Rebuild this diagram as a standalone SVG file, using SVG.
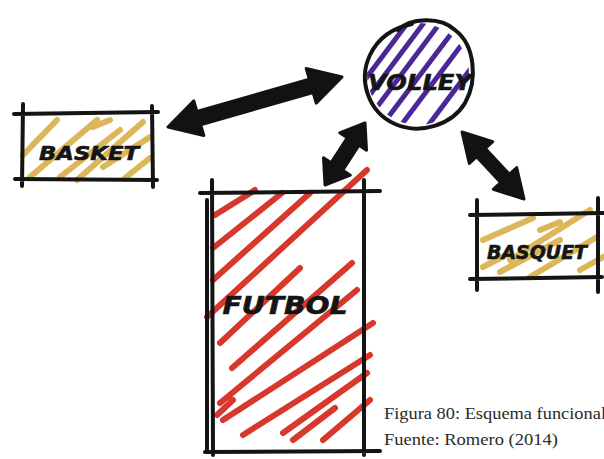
<svg xmlns="http://www.w3.org/2000/svg" width="604" height="459" viewBox="0 0 604 459">
<style>
.ink{fill:none;stroke:#141414;stroke-width:4;stroke-linecap:round;stroke-linejoin:round}
.gold{fill:none;stroke:#d6a93c;stroke-width:6;stroke-linecap:round;opacity:.85}
.purple{fill:none;stroke:#4a2898;stroke-width:5;stroke-linecap:round}
.red{fill:none;stroke:#d8372c;stroke-width:6;stroke-linecap:round}
.lbl{font-family:"DejaVu Sans",sans-serif;font-weight:bold;fill:#151515;stroke:#151515;stroke-width:0.6;font-style:italic}
.arrow{fill:#121212;stroke:#121212;stroke-width:3;stroke-linejoin:round}
.cap{font-family:"Liberation Serif","Times New Roman",serif;font-size:17px;fill:#2a2a2a}
</style>
<defs>
<clipPath id="vclip"><circle cx="418" cy="74" r="51"/></clipPath>
</defs>
<rect width="604" height="459" fill="#ffffff"/>

<g id="basket">
<path class="gold" d="M23 155 L57 120 M30 177 L97 120 M60 177 L120 130 M77 180 L143 122 M103 167 L150 137 M93 127 L110 120 M125 178 L150 158"/>
<path class="ink" d="M14 114 L158 112 M15 179 L157 180 M23 104 L22 186 M152 106 L153 187"/>
<text class="lbl" x="89" y="160" font-size="19" text-anchor="middle" textLength="100" lengthAdjust="spacingAndGlyphs">BASKET</text>
</g>

<g id="volley">
<g clip-path="url(#vclip)">
<path class="purple" d="M334.4 98.8 L418.4 -13.2 M344.8 106.6 L428.8 -5.4 M355.2 114.4 L439.2 2.4 M365.6 122.2 L449.6 10.2 M380 128 L460 22 M393 136 L470.4 33 M407.2 153.4 L491.2 41.4"/>
</g>
<path class="ink" stroke-width="3" d="M398 30 C410 18 440 16 455 30 C475 45 478 80 465 103 C452 125 420 135 395 124 C368 112 358 80 370 55 C378 38 392 28 412 24"/>
<text class="lbl" x="420" y="90" font-size="22" text-anchor="middle" textLength="104" lengthAdjust="spacingAndGlyphs">VOLLEY</text>
</g>

<g id="futbol">
<path class="red" d="M215 215 L255 190 M213 248 L282 193 M213 280 L310 193 M207 317 L367 170 M220 343 L300 268 M232 368 L352 263 M220 403 L357 290 M223 420 L373 323 M243 435 L370 355 M283 433 L367 373 M293 440 L335 408 M323 440 L370 400 M217 415 L233 400"/>
<path class="ink" d="M200 193 L380 191 M205 452 L380 451 M212 180 L213 455 M207 200 L207 450 M364 180 L364 455"/>
<text class="lbl" x="285" y="314" font-size="24" text-anchor="middle" textLength="125" lengthAdjust="spacingAndGlyphs">FUTBOL</text>
</g>

<g id="basquet">
<path class="gold" d="M483 240 L533 218 M510 260 L590 210 M530 277 L597 237 M483 267 L510 253 M580 270 L603 257 M540 230 L560 222 M500 272 L560 240"/>
<path class="ink" d="M470 215 L604 213 M470 279 L602 277 M477 200 L477 290 M598 198 L598 292"/>
<text class="lbl" x="537" y="259" font-size="19" text-anchor="middle" textLength="100" lengthAdjust="spacingAndGlyphs">BASQUET</text>
</g>

<g id="connectors">
<polygon class="arrow" points="168,127 203.8,135.5 200.7,124.9 313.1,92.5 316.2,103.1 342,77 306.2,68.5 309.3,79.1 196.9,111.5 193.8,100.9"/>
<polygon class="arrow" points="325,185 350.3,175.2 342.8,170.3 359,145.3 366.5,150.2 365,123 339.7,132.8 347.2,137.7 331,162.7 323.5,157.8"/>
<polygon class="arrow" points="462,132 469.3,163.5 476.6,156.7 500.6,182.5 493.3,189.3 524,199 516.7,167.5 509.4,174.3 485.4,148.5 492.7,141.7"/>
</g>

<text class="cap" x="384" y="419" textLength="222" lengthAdjust="spacingAndGlyphs">Figura 80: Esquema funcional</text>
<text class="cap" x="384" y="445" textLength="174" lengthAdjust="spacingAndGlyphs">Fuente: Romero (2014)</text>
</svg>
